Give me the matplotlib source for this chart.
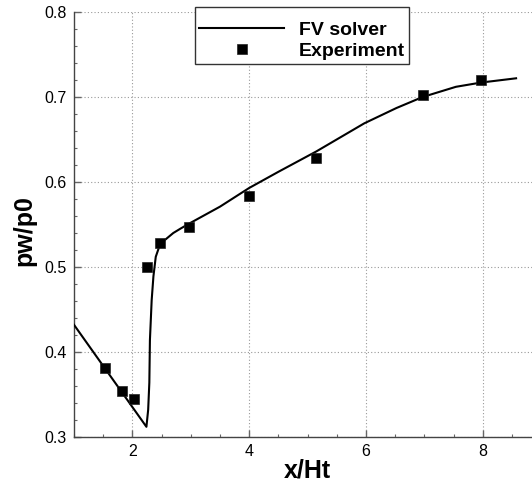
import matplotlib
matplotlib.use("Agg")
import matplotlib.pyplot as plt
from matplotlib.ticker import MultipleLocator

plt.rcParams['font.family'] = ['Liberation Sans', 'DejaVu Sans']

# FV solver curve
line_x = [1.0, 2.24, 2.27, 2.29, 2.30, 2.33, 2.36, 2.40, 2.46, 2.56, 2.63, 2.70, 2.82, 2.97,
          3.5, 4.0, 4.5, 5.15, 5.97, 6.52, 6.97, 7.54, 7.97, 8.57]
line_y = [0.432, 0.312, 0.332, 0.364, 0.414, 0.461, 0.489, 0.512, 0.524, 0.532, 0.536, 0.540,
          0.545, 0.551, 0.571, 0.593, 0.612, 0.636, 0.669, 0.687, 0.700, 0.712, 0.717, 0.722]

# Experiment points
exp_x = [1.53, 1.82, 2.03, 2.25, 2.48, 2.97, 3.99, 5.15, 6.97, 7.97]
exp_y = [0.381, 0.354, 0.345, 0.500, 0.528, 0.547, 0.583, 0.628, 0.702, 0.720]

W, H = 532, 488
fig = plt.figure(figsize=(W / 100, H / 100), dpi=100)
ax = fig.add_axes([74 / W, (H - 437) / H, (W - 74) / W, (437 - 12) / H])

ax.plot(line_x, line_y, color='black', lw=1.5, label='FV solver', zorder=3)
ax.plot(exp_x, exp_y, ls='none', marker='s', ms=7.2, mfc='black', mec='#222222',
        mew=0.5, label='Experiment', zorder=4)

ax.set_xlim(1.0, 1.0 + (W - 74) / 58.4)
ax.set_ylim(0.3, 0.8)
ax.xaxis.set_major_locator(MultipleLocator(2))
ax.xaxis.set_minor_locator(MultipleLocator(0.5))
ax.yaxis.set_major_locator(MultipleLocator(0.1))
ax.yaxis.set_minor_locator(MultipleLocator(0.02))
ax.set_xticks([2, 4, 6, 8])
ax.set_xticklabels(['2', '4', '6', '8'])
ax.set_yticks([0.3, 0.4, 0.5, 0.6, 0.7, 0.8])
ax.set_yticklabels(['0.3', '0.4', '0.5', '0.6', '0.7', '0.8'])

for s in ['top', 'right']:
    ax.spines[s].set_visible(False)
for s in ['left', 'bottom']:
    ax.spines[s].set_color('#444444')
    ax.spines[s].set_linewidth(1.0)

ax.tick_params(which='major', direction='in', length=5, width=1, color='#666666',
               labelsize=11.5, pad=5)
ax.tick_params(which='minor', direction='in', length=2.5, width=0.8, color='#666666')
ax.grid(True, which='major', ls=(0, (1, 2)), color='#999999', lw=0.8)
ax.set_axisbelow(True)

ax.set_xlabel('x/Ht', fontsize=18, fontweight='bold')
ax.set_ylabel('pw/p0', fontsize=18, fontweight='bold')
ax.xaxis.label.set_va('center')
ax.xaxis.set_label_coords((307.7 - 74) / (W - 74), (437 - 471) / 425)
ax.yaxis.label.set_va('center')
ax.yaxis.label.set_ha('center')
ax.yaxis.set_label_coords((24 - 74) / (W - 74), (437 - 231) / 425)

leg = fig.legend(loc='upper left', bbox_to_anchor=(195 / W, 1 - 7 / H),
                 bbox_transform=fig.transFigure, fancybox=False, framealpha=1,
                 edgecolor='#333333', prop={'weight': 'bold', 'size': 14},
                 handlelength=4.4, handletextpad=0.75, borderpad=0.2,
                 labelspacing=0.17, borderaxespad=0, markerscale=1.0,
                 title=' ', title_fontsize=5.5)
leg.get_frame().set_linewidth(1.0)

fig.savefig('out.png', dpi=100)
